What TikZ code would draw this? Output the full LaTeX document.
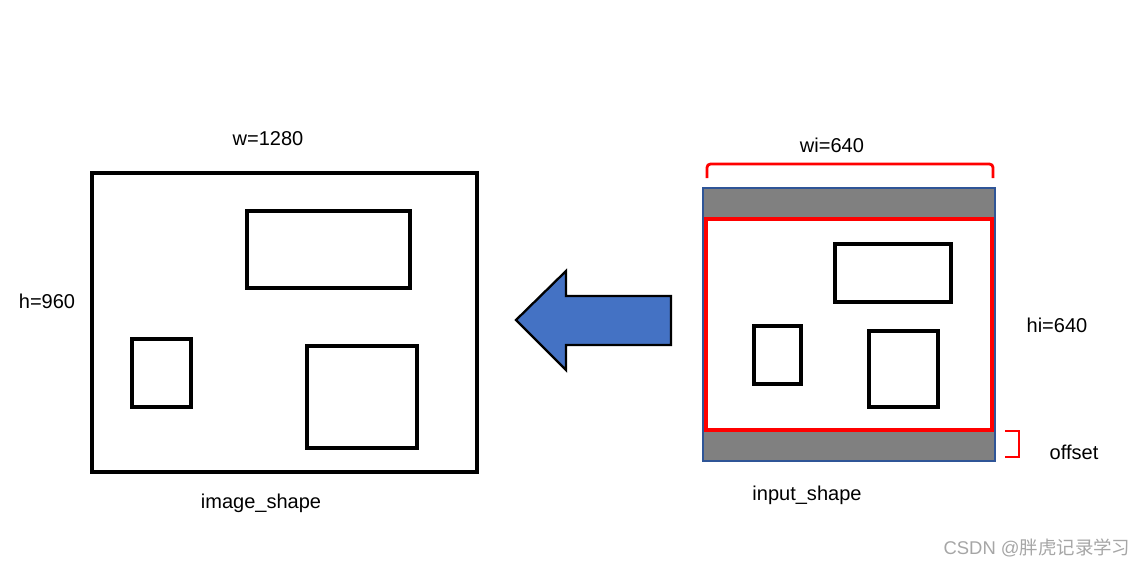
\documentclass[tikz,border=0pt]{standalone}
\usepackage{fontspec}
\setmainfont{Liberation Sans}
\newfontfamily\cjkfont{Noto Sans CJK SC}
\usetikzlibrary{calc,positioning}
\definecolor{arrowblue}{HTML}{4472C4}
\definecolor{frameblue}{HTML}{2F5597}
\definecolor{padgray}{HTML}{808080}
\definecolor{markgray}{HTML}{A6A6A6}

\begin{document}
\begin{tikzpicture}[x=0.02cm,y=-0.02cm,
  box/.style={draw=black,line width=1.9pt},
  redline/.style={draw=red,line width=1.6pt},
  lbl/.style={font=\fontsize{11.4}{13}\selectfont,inner sep=0pt}]
\useasboundingbox (0,0) rectangle (1146,566);
% image_shape side
\draw[box] (92,173) coordinate(IA) rectangle (477,472) coordinate(IB);
\draw[box] (247,211) rectangle (410,288);
\draw[box] (132,339) rectangle (191,407);
\draw[box] (307,346) rectangle (417,448);
\node[lbl] (wimg) at (268,139) {w=1280};
\node[lbl] (himg) at (47,301) {h=960};
\node[lbl] (nimg) at (261,503) {image\_shape};
% arrow
\draw[fill=arrowblue,draw=black,line width=1.3pt,line join=miter]
  (516,320) -- (566,271) -- (566,296) -- (671,296) -- (671,345) -- (566,345) -- (566,370) -- cycle;
% input_shape side
\fill[padgray] (703,188) rectangle (995,218);
\fill[padgray] (703,431) rectangle (995,461);
\draw[frameblue,line width=1.3pt] (703,188) coordinate(JA) rectangle (995,461) coordinate(JB);
\draw[redline,line width=1.8pt] (706,219) rectangle (992,430);
\draw[box] (835,244) rectangle (951,302);
\draw[box] (754,326) rectangle (801,384);
\draw[box] (869,331) rectangle (938,407);
\draw[redline,rounded corners=2] (707,178) -- (707,164) -- (993,164) -- (993,178);
\draw[redline] (1005,431) -- (1019,431) -- (1019,457) -- (1005,457);
\node[lbl] (winp) at (832,145) {wi=640};
\node[lbl] (hinp) at (1057,325) {hi=640};
\node[lbl] (offs) at (1074,452) {offset};
\node[lbl] (ninp) at (807,495) {input\_shape};
% watermark
\node[lbl,text=markgray,font=\fontsize{10.5}{12}\selectfont] (mark) at (1037,548) {CSDN @{\cjkfont 胖虎记录学习}};
\end{tikzpicture}
\end{document}
